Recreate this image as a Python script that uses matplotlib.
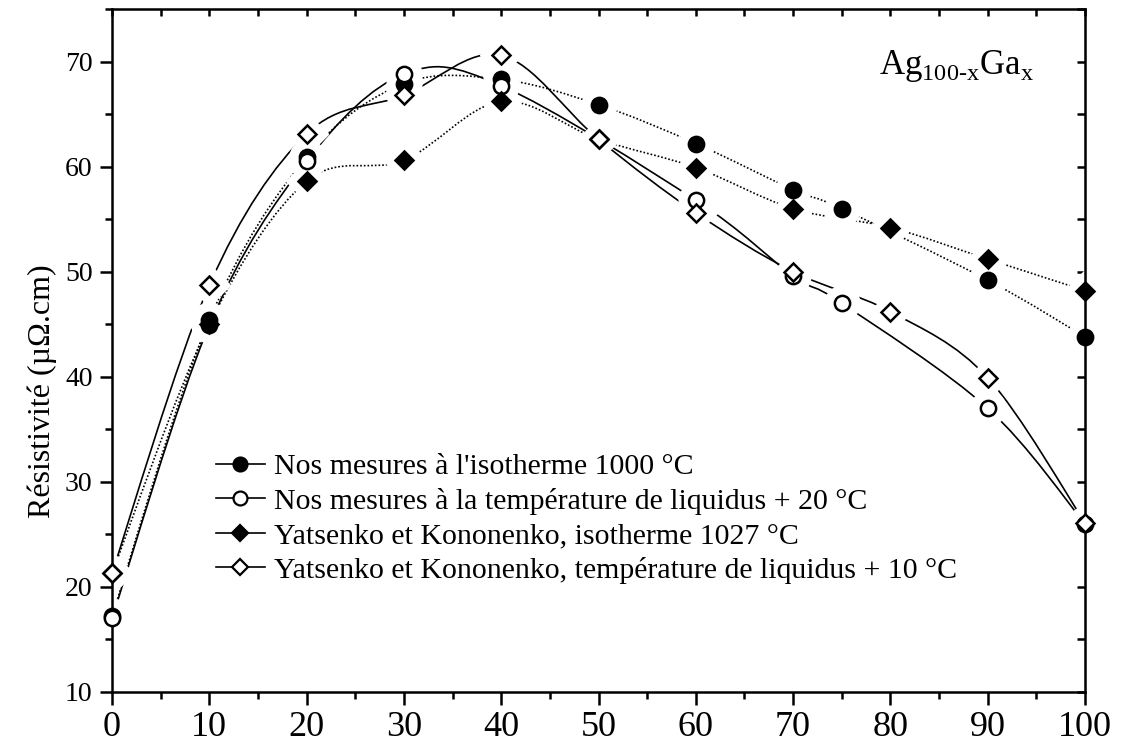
import numpy as np
import matplotlib
matplotlib.use('Agg')
import matplotlib.pyplot as plt
from matplotlib.path import Path
from matplotlib.patches import PathPatch
from matplotlib.lines import Line2D
from matplotlib.ticker import MultipleLocator

plt.rcParams['font.family'] = ['Liberation Serif', 'DejaVu Serif']
plt.rcParams['mathtext.fontset'] = 'custom'
plt.rcParams['mathtext.rm'] = 'Liberation Serif'

# Nos mesures a l'isotherme 1000 C (ronds pleins)
x_iso = [0, 10, 20, 30, 40, 50, 60, 70, 75, 90, 100]
y_iso = [17.2, 45.4, 60.9, 67.9, 68.3, 65.9, 62.2, 57.8, 56.0, 49.2, 43.8]

# Nos mesures a liquidus + 20 C (ronds vides)
x_liq = [0, 10, 20, 30, 40, 60, 70, 75, 90, 100]
y_liq = [17.0, 44.9, 60.5, 68.8, 67.7, 56.8, 49.6, 47.0, 37.0, 26.0]

# Yatsenko et Kononenko, isotherme 1027 C (losanges pleins)
x_yk_iso = [0, 10, 20, 30, 40, 50, 60, 70, 80, 90, 100]
y_yk_iso = [21.3, 45.0, 58.6, 60.6, 66.2, 62.6, 59.9, 56.0, 54.2, 51.2, 48.2]

# Yatsenko et Kononenko, liquidus + 10 C (losanges vides)
x_yk_liq = [0, 10, 20, 30, 40, 50, 60, 70, 80, 90, 100]
y_yk_liq = [21.3, 48.7, 63.1, 66.8, 70.6, 62.6, 55.6, 50.0, 46.2, 39.9, 26.1]

labels = ["Nos mesures à l'isotherme 1000 °C",
          "Nos mesures à la température de liquidus + 20 °C",
          "Yatsenko et Kononenko, isotherme 1027 °C",
          "Yatsenko et Kononenko, température de liquidus + 10 °C"]


def smooth_path(xs, ys):
    # courbe lisse (Catmull-Rom -> Bezier) passant par les points
    p = np.column_stack([xs, ys]).astype(float)
    ext = np.vstack([p[0], p, p[-1]])
    verts = [p[0]]
    codes = [Path.MOVETO]
    for i in range(1, len(ext) - 2):
        c1 = ext[i] + (ext[i + 1] - ext[i - 1]) / 6
        c2 = ext[i + 1] - (ext[i + 2] - ext[i]) / 6
        verts += [c1, c2, ext[i + 1]]
        codes += [Path.CURVE4] * 3
    return Path(verts, codes)


fig = plt.figure(figsize=(11.23, 7.51), dpi=100)
ax = fig.add_axes([0.0997, 0.0786, 0.8665, 0.9094])

series = [
    (x_iso, y_iso, 'o', 'black', (0, (1, 1.2))),
    (x_liq, y_liq, 'o', 'white', '-'),
    (x_yk_iso, y_yk_iso, 'D', 'black', (0, (1, 1.2))),
    (x_yk_liq, y_yk_liq, 'D', 'white', '-'),
]

for xs, ys, m, fc, ls in series:
    patch = PathPatch(smooth_path(xs, ys), facecolor='none', edgecolor='black',
                      lw=1.2, linestyle=ls, zorder=2)
    ax.add_patch(patch)

# halos blancs : coupent les courbes autour des symboles (sous les axes)
for xs, ys, m, fc, ls in series:
    ax.plot(xs, ys, linestyle='none', marker=m, ms=25 if m == 'o' else 21,
            mfc='white', mec='white', zorder=2.2)

for xs, ys, m, fc, ls in series:
    ax.plot(xs, ys, linestyle='none', marker=m, ms=11 if m == 'o' else 9,
            mfc=fc, mec='black', mew=1.8, zorder=4, clip_on=False)

ax.set_xlim(0, 100)
ax.set_ylim(10, 75)
ax.xaxis.set_major_locator(MultipleLocator(10))
ax.xaxis.set_minor_locator(MultipleLocator(5))
ax.yaxis.set_minor_locator(MultipleLocator(5))
ax.set_yticks([10, 20, 30, 40, 50, 60, 70])
ax.tick_params(axis='both', which='both', direction='out', top=False, right=False,
               width=1.8)
ax.tick_params(axis='both', which='major', length=9)
ax.tick_params(axis='both', which='minor', length=5)
ax.tick_params(axis='x', which='major', labelsize=26, pad=5)
ax.tick_params(axis='y', which='major', labelsize=20, pad=5)
for sp in ax.spines.values():
    sp.set_linewidth(1.8)

secx = ax.secondary_xaxis('top')
secx.xaxis.set_major_locator(MultipleLocator(10))
secx.xaxis.set_minor_locator(MultipleLocator(5))
secx.tick_params(which='both', direction='in', labeltop=False, width=1.8, length=5)
secy = ax.secondary_yaxis('right')
secy.yaxis.set_major_locator(MultipleLocator(10))
secy.yaxis.set_minor_locator(MultipleLocator(5))
secy.tick_params(which='both', direction='in', labelright=False, width=1.8, length=6)

ax.set_ylabel('Résistivité (µΩ.cm)', fontsize=23)
ax.yaxis.set_label_coords(-0.056, 0.44)

ax.text(0.788, 0.905, r'Ag$_{\mathregular{100\text{-}x}}$Ga$_{\mathregular{x}}$',
        transform=ax.transAxes, fontsize=25, va='baseline', ha='left')

handles = [Line2D([], [], color='black', lw=1.2, marker=m, ms=10 if m == 'o' else 8,
                  mfc=fc, mec='black', mew=1.6)
           for xs, ys, m, fc, ls in series]
ax.legend(handles, labels, loc='upper left', bbox_to_anchor=(0.085, 0.38),
          frameon=False, fontsize=21.5, handlelength=1.65, handletextpad=0.3,
          labelspacing=0.25, borderpad=0.2)

fig.savefig('out.png', dpi=100)
